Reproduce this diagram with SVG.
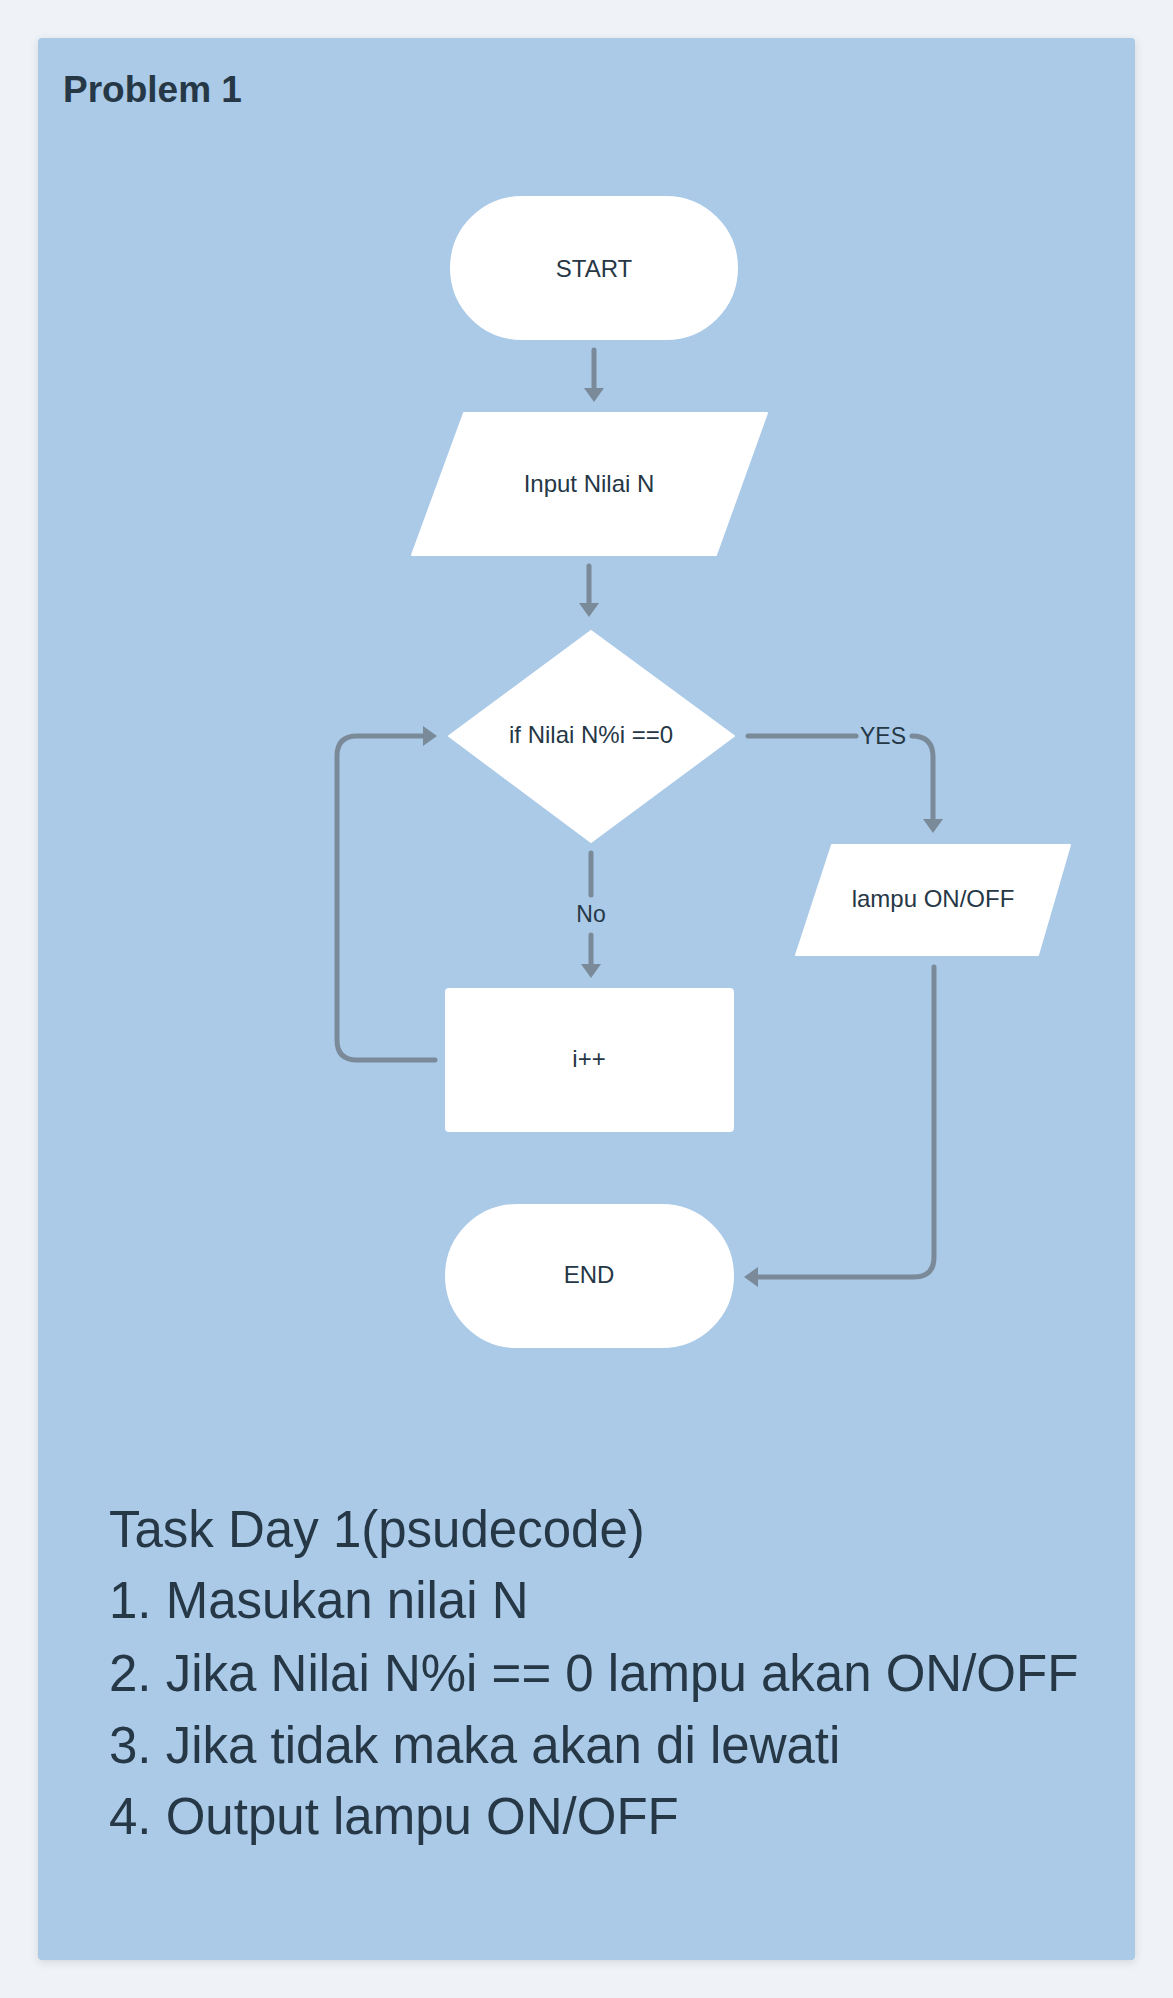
<svg xmlns="http://www.w3.org/2000/svg" width="1173" height="1998" viewBox="0 0 1173 1998">
  <style>
    .node { fill: #ffffff; stroke: #ffffff; stroke-width: 2; stroke-linejoin: round; }
    .lbl { font-family: "Liberation Sans", Arial, sans-serif; font-size: 24px; fill: #263746; text-anchor: middle; }
    .clbl { font-family: "Liberation Sans", Arial, sans-serif; font-size: 23px; fill: #263746; text-anchor: middle; }
    .conn { fill: none; stroke: #7b8a99; stroke-width: 5; stroke-linecap: round; stroke-linejoin: round; }
    .big { font-family: "Liberation Sans", Arial, sans-serif; font-size: 51px; fill: #263746; }
    .title { font-family: "Liberation Sans", Arial, sans-serif; font-size: 37px; font-weight: bold; fill: #263746; }
  </style>
  <defs>
    <marker id="arrow" markerUnits="userSpaceOnUse" markerWidth="16" markerHeight="22" refX="6" refY="10" orient="auto">
      <path d="M0,0 L14,10 L0,20 Z" fill="#7b8a99"/>
    </marker>
    <filter id="shadow" x="-5%" y="-5%" width="110%" height="110%">
      <feDropShadow dx="0" dy="2" stdDeviation="4" flood-color="#000000" flood-opacity="0.12"/>
    </filter>
  </defs>

  <rect x="0" y="0" width="1173" height="1998" fill="#eff3f7"/>
  <rect id="panel" x="38" y="38" width="1097" height="1922" rx="4" fill="#aacae8" filter="url(#shadow)"/>
  <text class="title" x="63" y="102">Problem 1</text>

  <g id="connectors">
    <path class="conn" d="M594,350 L594,394" marker-end="url(#arrow)"/>
    <path class="conn" d="M589,566 L589,609" marker-end="url(#arrow)"/>
    <path class="conn" d="M748,736 L856,736"/>
    <path class="conn" d="M912,736 Q933,736 933,757 L933,825" marker-end="url(#arrow)"/>
    <path class="conn" d="M591,853 L591,895"/>
    <path class="conn" d="M591,935 L591,970" marker-end="url(#arrow)"/>
    <path class="conn" d="M435,1060 L357,1060 Q337,1060 337,1040 L337,756 Q337,736 357,736 L429,736" marker-end="url(#arrow)"/>
    <path class="conn" d="M934,967 L934,1257 Q934,1277 914,1277 L752,1277" marker-end="url(#arrow)"/>
    <text class="clbl" x="883" y="744">YES</text>
    <text class="clbl" x="591" y="922">No</text>
  </g>

  <g id="start">
    <rect class="node" x="451" y="197" width="286" height="142" rx="71"/>
    <text class="lbl" x="594" y="277">START</text>
  </g>
  <g id="input">
    <polygon class="node" points="464,413 767,413 716,555 412,555"/>
    <text class="lbl" x="589" y="492">Input Nilai N</text>
  </g>
  <g id="decision">
    <polygon class="node" points="591,631 734,736 591,842 449,736"/>
    <text class="lbl" x="591" y="743">if Nilai N%i ==0</text>
  </g>
  <g id="lampu">
    <polygon class="node" points="832,845 1070,845 1038,955 796,955"/>
    <text class="lbl" x="933" y="907">lampu ON/OFF</text>
  </g>
  <g id="increment">
    <rect class="node" x="446" y="989" width="287" height="142" rx="3"/>
    <text class="lbl" x="589" y="1067">i++</text>
  </g>
  <g id="end">
    <rect class="node" x="446" y="1205" width="287" height="142" rx="71"/>
    <text class="lbl" x="589" y="1283">END</text>
  </g>

  <g id="notes">
    <text class="big" x="109" y="1547">Task Day 1(psudecode)</text>
    <text class="big" x="109" y="1618">1. Masukan nilai N</text>
    <text class="big" x="109" y="1691">2. Jika Nilai N%i == 0 lampu akan ON/OFF</text>
    <text class="big" x="109" y="1763">3. Jika tidak maka akan di lewati</text>
    <text class="big" x="109" y="1834">4. Output lampu ON/OFF</text>
  </g>
</svg>
